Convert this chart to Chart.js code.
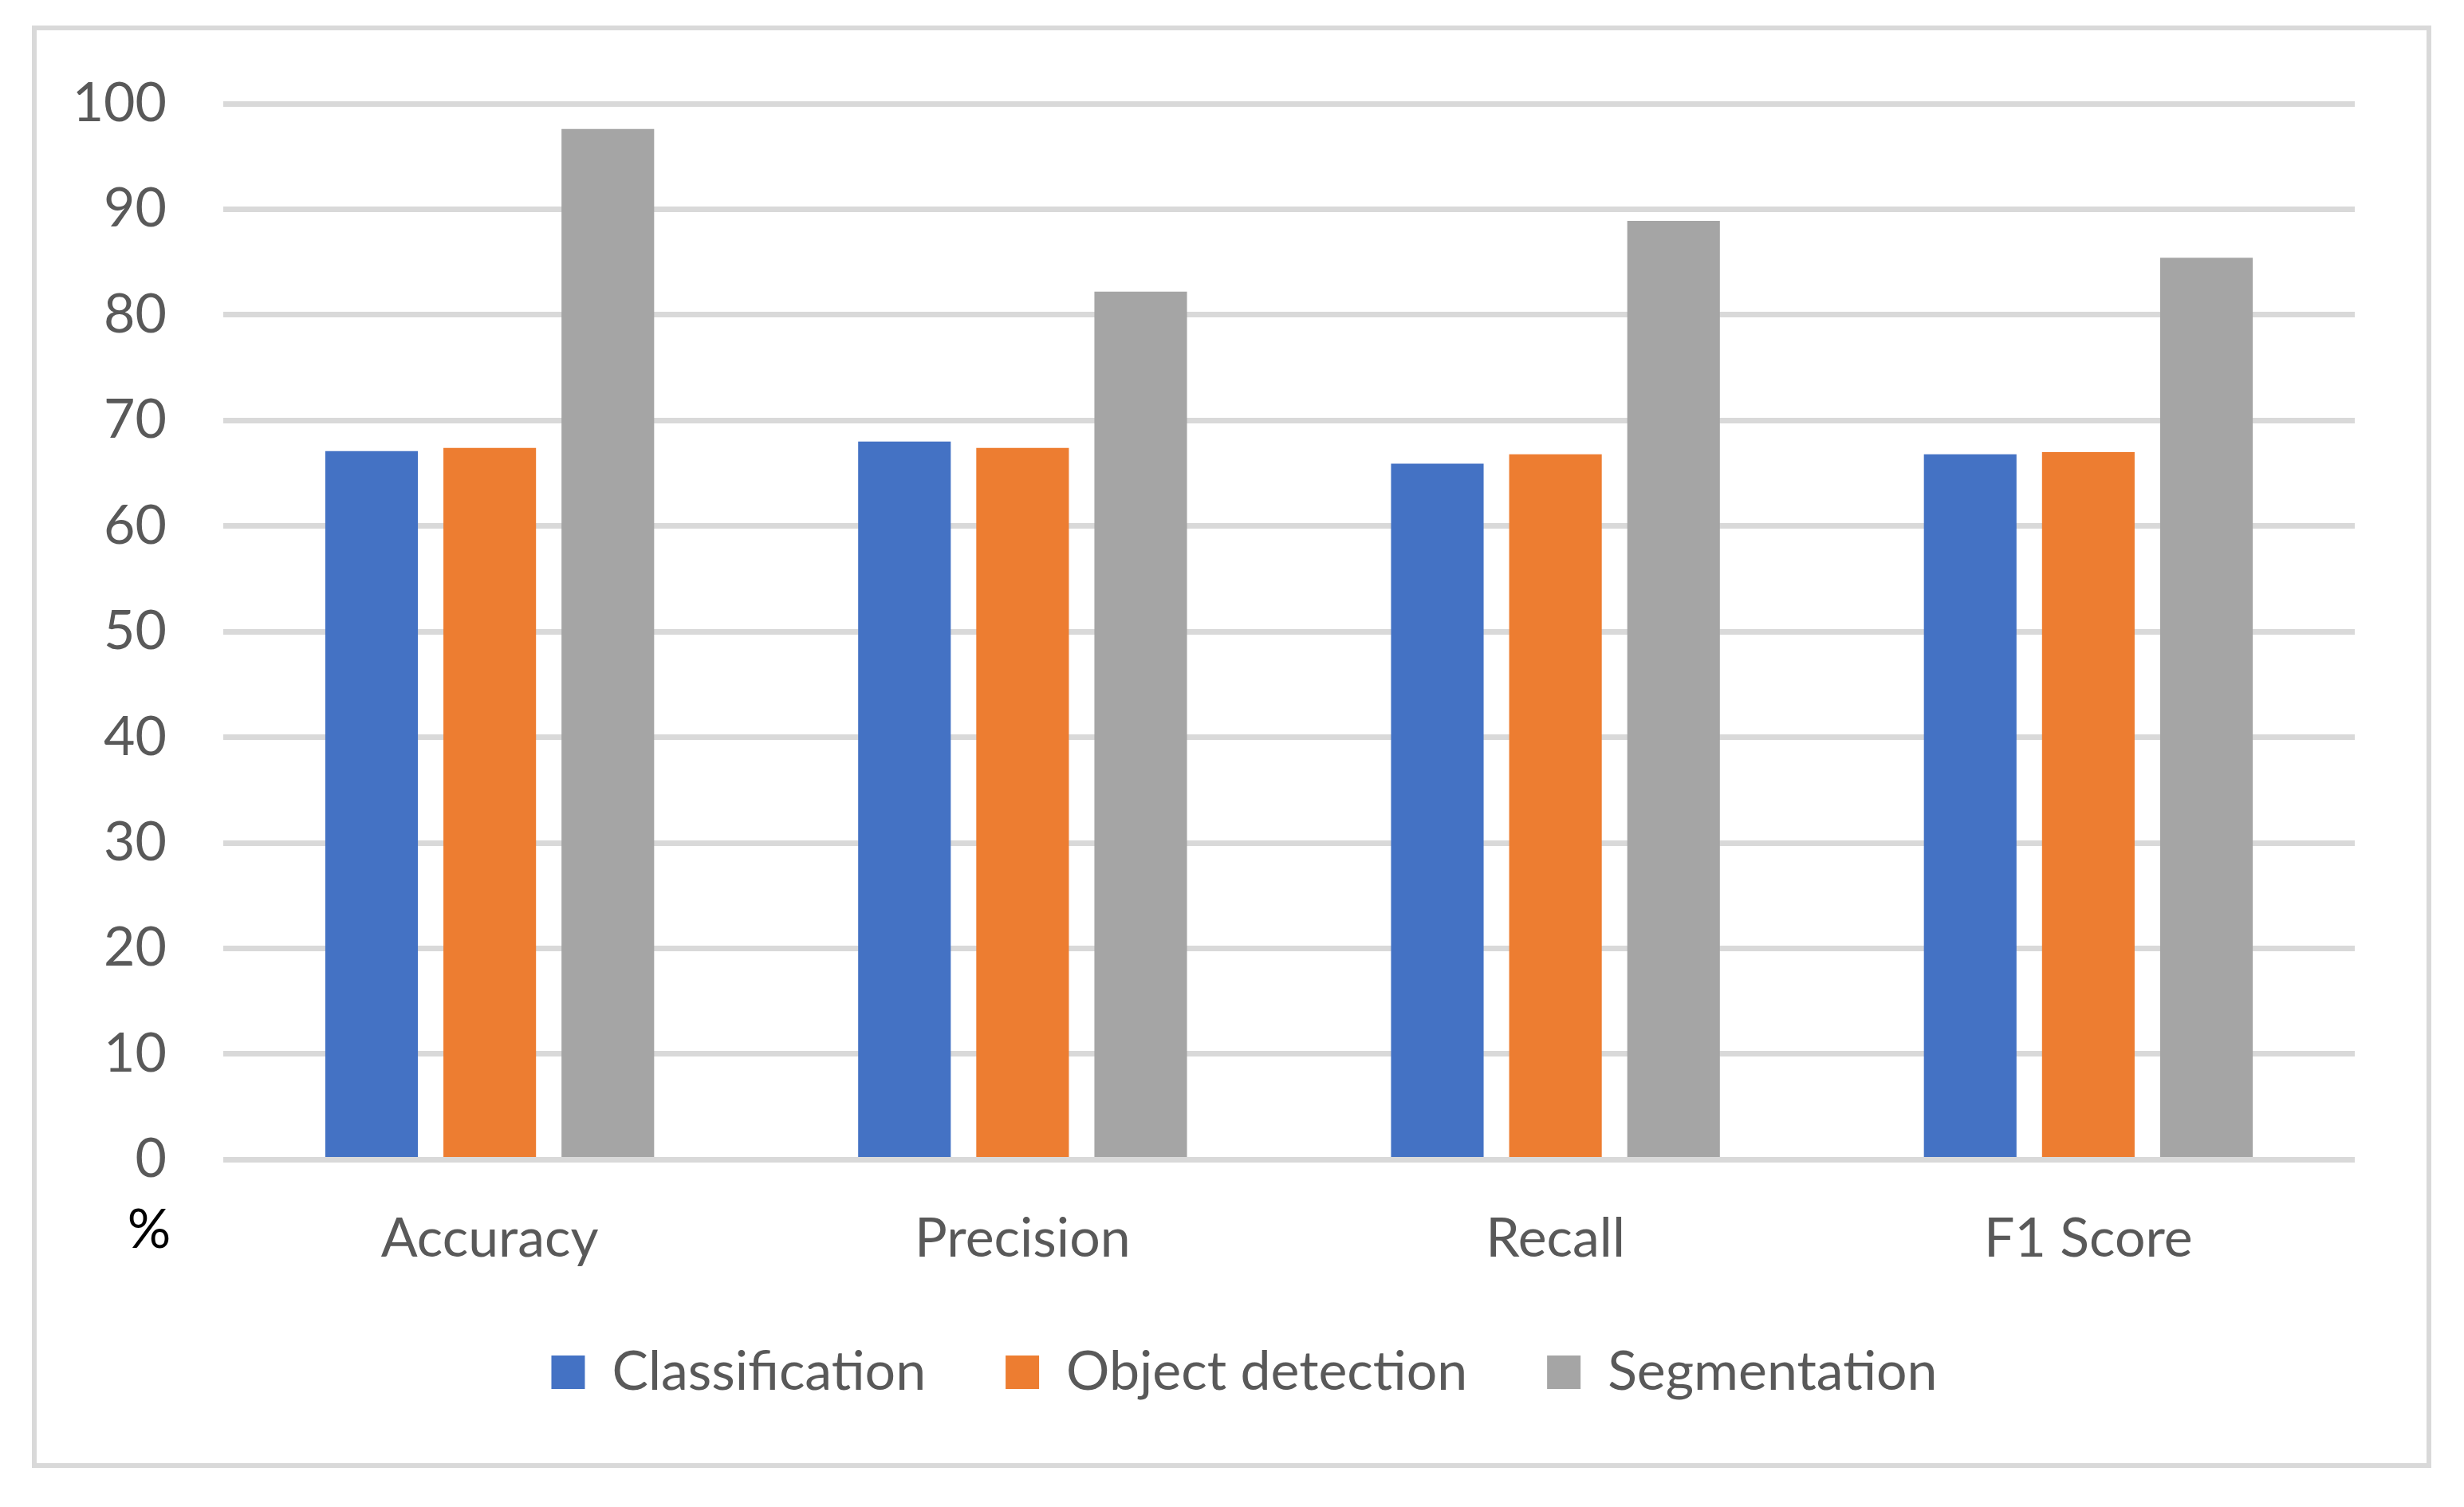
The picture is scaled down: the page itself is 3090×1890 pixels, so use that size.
<!DOCTYPE html>
<html>
<head>
<meta charset="utf-8">
<script src="https://cdn.jsdelivr.net/npm/chart.js@4.4.1/dist/chart.umd.min.js"></script>
<style>
  body { margin: 0; background: #fff; }
  #frame {
    position: absolute; left: 40px; top: 32px;
    width: 2997px; height: 1797px;
    border: 6px solid #d9d9d9;
  }
  canvas { display: block; }
</style>
</head>
<body>
<div id="frame"><canvas id="myChart" width="2997" height="1797"></canvas></div>
<script>
const categories = ['Accuracy', 'Precision', 'Recall', 'F1 Score'];
const classification = [67.1, 68.0, 65.9, 66.8];
const objectDetection = [67.4, 67.4, 66.8, 67.0];
const segmentation = [97.6, 82.2, 88.9, 85.4];
const yTicks = [0, 10, 20, 30, 40, 50, 60, 70, 80, 90, 100];

const textGrey = '#595959';
const fontFamily = 'Lato, "Open Sans", sans-serif';
const fontSize = 68;

// the little "%" under the 0 tick
const percentLabel = {
    id: 'percentLabel',
    afterDraw(chart) {
        const ctx = chart.ctx;
        ctx.save();
        ctx.font = fontSize + 'px ' + fontFamily;
        ctx.fillStyle = '#000';
        ctx.textAlign = 'center';
        ctx.textBaseline = 'alphabetic';
        ctx.fillText('%', 141, 1527);
        ctx.restore();
    }
};

// nudge the legend so it sits where the original one does
const legendShift = {
    id: 'legendShift',
    afterLayout(chart) {
        const lg = chart.legend;
        lg.top -= 59; lg.bottom -= 59;
        lg.left += 41; lg.right += 41;
    }
};

const ctx = document.getElementById('myChart').getContext('2d');
const chart = new Chart(ctx, {
    type: 'bar',
    data: {
        labels: categories,
        datasets: [{
            label: 'Classification',
            backgroundColor: '#4472C4',
            data: classification
        }, {
            label: 'Object detection',
            backgroundColor: '#ED7D31',
            data: objectDetection
        }, {
            label: 'Segmentation',
            backgroundColor: '#A5A5A5',
            data: segmentation
        }]
    },
    options: {
        responsive: false,
        animation: false,
        devicePixelRatio: 1,
        categoryPercentage: 0.665,
        barPercentage: 0.784,
        layout: {
            padding: { left: 40, right: 90, top: 92, bottom: 11 }
        },
        scales: {
            x: {
                grid: { display: false },
                border: { display: false },
                ticks: {
                    color: textGrey,
                    padding: 51,
                    font: { family: fontFamily, size: fontSize }
                }
            },
            y: {
                min: 0,
                max: 100,
                border: { display: false },
                // invisible tick marks give the label gap without extra top padding
                grid: {
                    color: '#d9d9d9', lineWidth: 7,
                    drawTicks: true, tickLength: 60, tickColor: 'rgba(0,0,0,0)'
                },
                afterFit(scale) { scale.width = 194; },
                afterBuildTicks(scale) { scale.ticks = yTicks.map(v => ({ value: v })); },
                ticks: {
                    color: textGrey,
                    padding: 11,
                    font: { family: fontFamily, size: fontSize }
                }
            }
        },
        plugins: {
            legend: {
                position: 'bottom',
                labels: {
                    color: textGrey,
                    boxWidth: 42,
                    boxHeight: 42,
                    padding: 100,
                    font: { family: fontFamily, size: fontSize }
                }
            },
            tooltip: { enabled: false }
        }
    },
    plugins: [percentLabel, legendShift]
});
</script>
</body>
</html>
